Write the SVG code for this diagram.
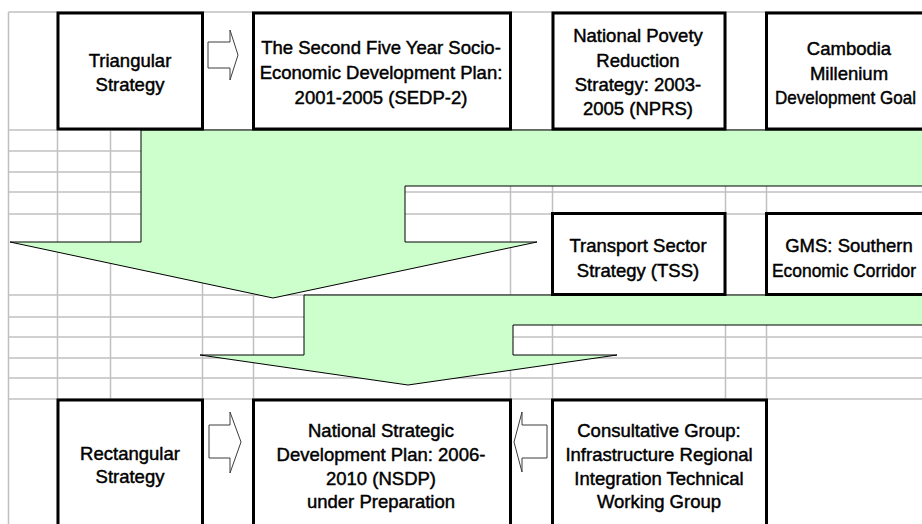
<svg xmlns="http://www.w3.org/2000/svg" width="922" height="524" viewBox="0 0 922 524">
  <defs>
    <style>
      .grid line { stroke: #c0c0c0; stroke-width: 1.5; }
      .flow { fill: #ccffcc; stroke: #000; stroke-width: 1; stroke-linejoin: miter; }
      .box rect { fill: #fff; stroke: #000; stroke-width: 3; }
      .box text { font-family: "Liberation Sans", Arial, sans-serif; font-size: 18.5px; fill: #000; stroke: #000; stroke-width: 0.45; text-anchor: middle; }
      .box text.start { text-anchor: start; }
      .hollow { fill: #fff; stroke: #3c3c3c; stroke-width: 1; }
    </style>
  </defs>

  <rect x="0" y="0" width="922" height="524" fill="#fff"/>

  <!-- worksheet grid -->
  <g class="grid">
    <line x1="8.5" y1="12" x2="922" y2="12"/>
    <line x1="8.5" y1="130" x2="922" y2="130"/>
    <line x1="8.5" y1="151" x2="922" y2="151"/>
    <line x1="8.5" y1="172" x2="922" y2="172"/>
    <line x1="8.5" y1="192" x2="922" y2="192"/>
    <line x1="8.5" y1="214" x2="922" y2="214"/>
    <line x1="8.5" y1="295" x2="922" y2="295"/>
    <line x1="8.5" y1="317" x2="922" y2="317"/>
    <line x1="8.5" y1="337" x2="922" y2="337"/>
    <line x1="8.5" y1="358" x2="922" y2="358"/>
    <line x1="8.5" y1="378" x2="922" y2="378"/>
    <line x1="8.5" y1="399" x2="922" y2="399"/>
    <line x1="8.5" y1="12" x2="8.5" y2="524"/>
    <line x1="57.5" y1="12" x2="57.5" y2="524"/>
    <line x1="110.5" y1="12" x2="110.5" y2="524"/>
    <line x1="202.5" y1="12" x2="202.5" y2="524"/>
    <line x1="253.5" y1="12" x2="253.5" y2="524"/>
    <line x1="510.5" y1="12" x2="510.5" y2="524"/>
    <line x1="552.5" y1="12" x2="552.5" y2="524"/>
    <line x1="725.5" y1="12" x2="725.5" y2="524"/>
    <line x1="766.5" y1="12" x2="766.5" y2="524"/>
  </g>

  <!-- connectors: bent block arrows and hollow arrows -->
  <g id="connectors">
    <polygon class="flow" points="960,130 141,130 141,242 10,242 273,298 537,242 405,242 405,186 960,186"/>
    <polygon class="flow" points="960,295 304,295 304,355 200,355 408,385 617,355 513,355 513,325 960,325"/>
    <polygon class="hollow" points="208,42 230,42 230,30 238,55 230,80 230,68 208,68"/>
    <polygon class="hollow" points="209,425 230,425 230,412 241,442 230,473 230,458 209,458"/>
    <polygon class="hollow" points="547,425 522,425 522,412 514,442 522,472 522,458 547,458"/>
  </g>

  <g id="triangular" class="box">
    <rect x="58" y="13" width="144.5" height="116"/>
    <text x="130" y="67">Triangular</text>
    <text x="130" y="91">Strategy</text>
  </g>

  <g id="sedp2" class="box">
    <rect x="253.5" y="13" width="257" height="116"/>
    <text x="381" y="54">The Second Five Year Socio-</text>
    <text x="381" y="79">Economic Development Plan:</text>
    <text x="381" y="104">2001-2005 (SEDP-2)</text>
  </g>

  <g id="nprs" class="box">
    <rect x="553" y="13" width="172" height="116"/>
    <text x="638" y="42">National Povety</text>
    <text x="638" y="67">Reduction</text>
    <text x="638" y="91">Strategy: 2003-</text>
    <text x="638" y="115">2005 (NPRS)</text>
  </g>

  <g id="cmdg" class="box">
    <rect x="766.5" y="13" width="200" height="116"/>
    <text x="849" y="55">Cambodia</text>
    <text x="849" y="80">Millenium</text>
    <text class="start" x="775" y="104" textLength="141" lengthAdjust="spacingAndGlyphs">Development Goal</text>
  </g>

  <g id="tss" class="box">
    <rect x="552.5" y="213.5" width="172.5" height="81"/>
    <text x="638" y="252">Transport Sector</text>
    <text x="638" y="277">Strategy (TSS)</text>
  </g>

  <g id="gms" class="box">
    <rect x="766.5" y="213.5" width="200" height="81"/>
    <text x="849" y="252">GMS: Southern</text>
    <text class="start" x="772" y="277" textLength="144" lengthAdjust="spacingAndGlyphs">Economic Corridor</text>
  </g>

  <g id="rectangular" class="box">
    <rect x="58" y="400" width="144.5" height="160"/>
    <text x="130" y="460">Rectangular</text>
    <text x="130" y="483">Strategy</text>
  </g>

  <g id="nsdp" class="box">
    <rect x="253.5" y="400" width="257" height="160"/>
    <text x="381" y="437">National Strategic</text>
    <text x="381" y="461">Development Plan: 2006-</text>
    <text x="381" y="485">2010 (NSDP)</text>
    <text x="381" y="508">under Preparation</text>
  </g>

  <g id="cg-infrastructure" class="box">
    <rect x="552.5" y="400" width="214" height="160"/>
    <text x="659" y="437">Consultative Group:</text>
    <text x="659" y="461">Infrastructure Regional</text>
    <text x="659" y="485">Integration Technical</text>
    <text x="659" y="508">Working Group</text>
  </g>
</svg>
